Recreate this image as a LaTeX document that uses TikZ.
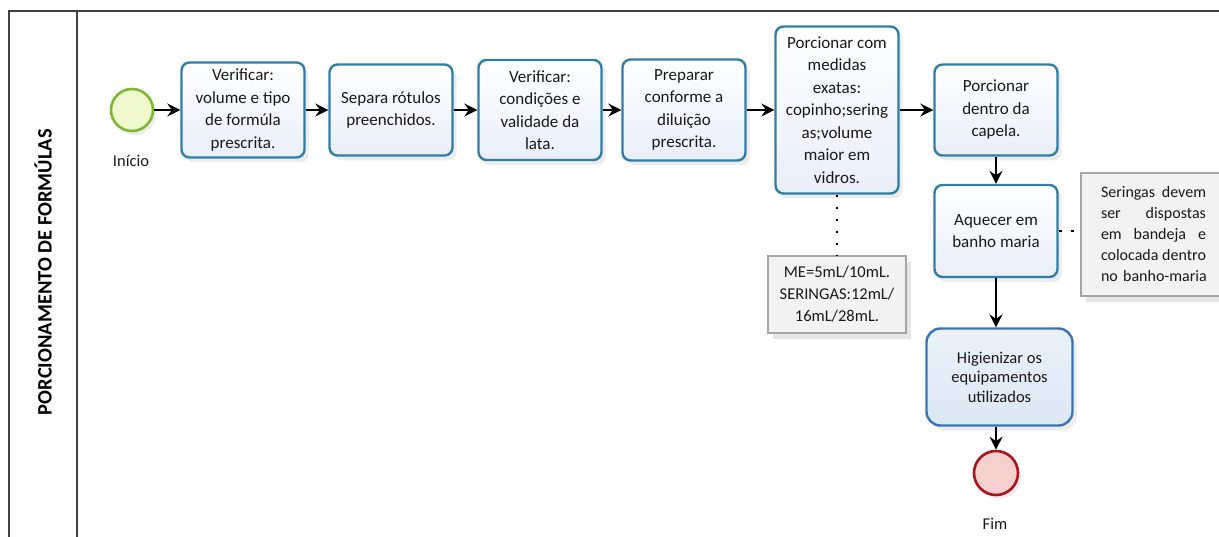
\documentclass[tikz,border=0pt]{standalone}
\usepackage{fontspec}
\setmainfont{Carlito}
\usetikzlibrary{arrows.meta,shadows}
\definecolor{tarefaborda}{HTML}{2F7EA8}
\definecolor{tarefafundo}{HTML}{E9EEFA}
\definecolor{higborda}{HTML}{3A76B5}
\definecolor{higfundo}{HTML}{DCE8F5}
\definecolor{inicioborda}{HTML}{7CB832}
\definecolor{iniciofundo}{HTML}{EEF8CC}
\definecolor{fimborda}{HTML}{A8151D}
\definecolor{fimfundo}{HTML}{F6CFCF}
\definecolor{notafundo}{HTML}{F2F2F2}
\definecolor{notaborda}{HTML}{A6A6A6}
\definecolor{raia}{HTML}{404040}
\newcommand{\linhajust}[1]{\makebox[105pt][l]{#1}}
\begin{document}
\begin{tikzpicture}[x=1pt,y=-1pt,
        tarefa/.style={draw=tarefaborda, line width=2.4pt, rounded corners=8pt,
            top color=white, bottom color=tarefafundo,
            minimum width=123pt, minimum height=91pt, align=center,
            font=\fontsize{17}{22.5}\selectfont, text=black!90,
            drop shadow={opacity=0.15, shadow xshift=4pt, shadow yshift=-5pt}},
        evento/.style={circle, line width=2.6pt, minimum size=42pt,
            drop shadow={opacity=0.15, shadow xshift=3pt, shadow yshift=-4pt}},
        nota/.style={draw=notaborda, line width=1.2pt, fill=notafundo,
            font=\fontsize{16.5}{22}\selectfont, text=black!90,
            drop shadow={opacity=0.2, shadow xshift=5pt, shadow yshift=-6pt}},
        rotulo/.style={font=\fontsize{16.5}{19}\selectfont, text=black!90},
        fluxo/.style={line width=1.4pt, -{Stealth[length=13pt,width=13pt,inset=4.5pt]}},
        associacao/.style={line width=2.8pt, dash pattern=on 2.8pt off 9.2pt}
    ]
    \useasboundingbox (0,0) rectangle (1219,537);
    \clip (0,0) rectangle (1219,537);
    % raia
    \draw[raia, line width=1.5pt] (1219,11) -- (9,11) -- (9,537);
    \draw[raia, line width=1.5pt] (77,11) -- (77,537);
    \node[rotate=90, font=\fontsize{20.5}{21}\selectfont\bfseries] (titulo) at (43,272) {PORCIONAMENTO DE FORMÚLAS};
    % eventos
    \node[evento, draw=inicioborda, fill=iniciofundo] (inicio) at (132,110) {};
    \node[rotulo] (inicioTxt) at (131,161) {Início};
    \node[evento, draw=fimborda, fill=fimfundo, minimum size=44pt] (fim) at (996,473) {};
    \node[rotulo] (fimTxt) at (995,524) {Fim};
    % tarefas
    \node[tarefa, minimum height=95pt] (verificar1) at (243,110) {Verificar:\\volume e tipo\\de formúla\\prescrita.};
    \node[tarefa] (separar) at (391,110) {Separa rótulos\\preenchidos.};
    \node[tarefa, minimum height=100pt] (verificar2) at (540,110) {Verificar:\\condições e\\validade da\\lata.};
    \node[tarefa, minimum height=101pt] (preparar) at (684,110) {Preparar\\conforme a\\diluição\\prescrita.};
    \node[tarefa, minimum height=167pt] (porcionar1) at (837,110) {Porcionar com\\medidas\\exatas:\\copinho;sering\\as;volume\\maior em\\vidros.};
    \node[tarefa] (porcionar2) at (996,110) {Porcionar\\dentro da\\capela.};
    \node[tarefa, minimum height=92pt] (aquecer) at (996,231) {Aquecer em\\banho maria};
    \node[tarefa, draw=higborda, top color=higfundo!60, bottom color=higfundo, rounded corners=14pt,
        minimum width=146pt, minimum height=97pt, font=\fontsize{16.5}{19.5}\selectfont] (higienizar) at (999.5,377) {Higienizar os\\equipamentos\\utilizados};
    % anotacoes
    \node[nota, minimum width=138pt, minimum height=77pt, align=center] (nota1) at (837,294.5) {ME=5mL/10mL.\\SERINGAS:12mL/\\16mL/28mL.};
    \node[nota, text width=105pt, inner xsep=20pt, minimum height=123pt, align=left,
        font=\fontsize{16}{21}\selectfont] (nota2) at (1153.5,234.5)
        {\linhajust{Seringas\hfill devem}\\\linhajust{ser\hfill dispostas}\\\linhajust{em\hfill bandeja\hfill e}\\\linhajust{colocada\hfill dentro}\\\linhajust{no banho-maria}};
    % fluxo
    \draw[fluxo] (inicio) -- (verificar1);
    \draw[fluxo] (verificar1) -- (separar);
    \draw[fluxo] (separar) -- (verificar2);
    \draw[fluxo] (verificar2) -- (preparar);
    \draw[fluxo] (preparar) -- (porcionar1);
    \draw[fluxo] (porcionar1) -- (porcionar2);
    \draw[fluxo] (porcionar2) -- (aquecer);
    \draw[fluxo] (aquecer) -- (aquecer |- higienizar.north);
    \draw[fluxo] (fim |- higienizar.south) -- (fim);
    % associacoes
    \draw[associacao] (porcionar1.south) -- (nota1.north);
    \draw[associacao] (aquecer.east) -- (aquecer.east -| nota2.west);
\end{tikzpicture}
\end{document}
